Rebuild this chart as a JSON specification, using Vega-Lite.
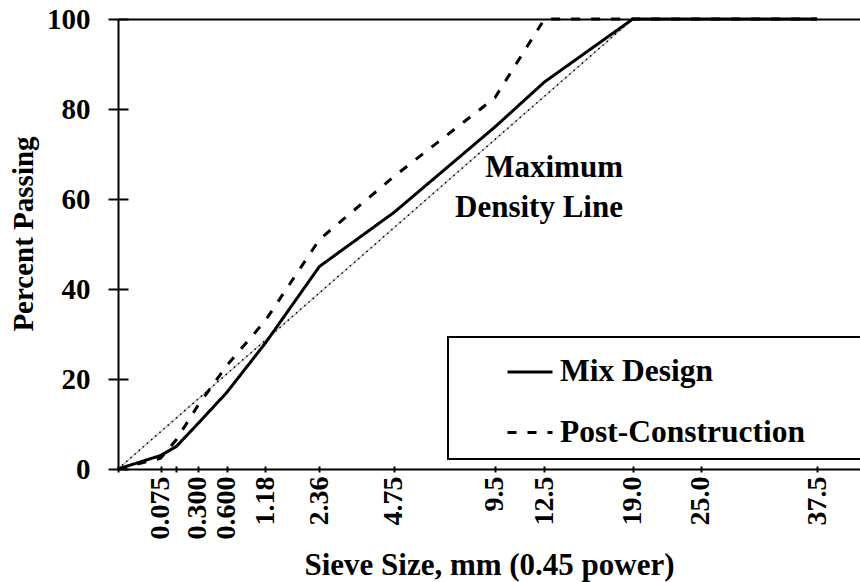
{
  "$schema": "https://vega.github.io/schema/vega-lite/v6.json",
  "width": 742,
  "height": 450,
  "autosize": {"type": "none"},
  "padding": {"left": 118, "top": 19, "right": 0, "bottom": 113},
  "background": "white",
  "config": {
    "view": {"stroke": null},
    "font": "Liberation Serif",
    "axis": {
      "grid": false,
      "domainColor": "black",
      "tickColor": "black",
      "labelColor": "black",
      "titleColor": "black",
      "domainWidth": 2,
      "tickWidth": 2,
      "labelFont": "Liberation Serif",
      "labelFontWeight": "bold",
      "titleFont": "Liberation Serif",
      "titleFontWeight": "bold"
    }
  },
  "datasets": {
    "grad": [
      {"size": 0, "pct": 0, "series": "Mix Design"},
      {"size": 0.075, "pct": 3, "series": "Mix Design"},
      {"size": 0.15, "pct": 5, "series": "Mix Design"},
      {"size": 0.3, "pct": 10, "series": "Mix Design"},
      {"size": 0.6, "pct": 17, "series": "Mix Design"},
      {"size": 1.18, "pct": 28, "series": "Mix Design"},
      {"size": 2.36, "pct": 45, "series": "Mix Design"},
      {"size": 4.75, "pct": 57, "series": "Mix Design"},
      {"size": 9.5, "pct": 76, "series": "Mix Design"},
      {"size": 12.5, "pct": 86, "series": "Mix Design"},
      {"size": 19, "pct": 100, "series": "Mix Design"},
      {"size": 25, "pct": 100, "series": "Mix Design"},
      {"size": 37.5, "pct": 100, "series": "Mix Design"},
      {"size": 0, "pct": 0, "series": "Post-Construction"},
      {"size": 0.075, "pct": 2.4, "series": "Post-Construction"},
      {"size": 0.15, "pct": 6.5, "series": "Post-Construction"},
      {"size": 0.3, "pct": 14, "series": "Post-Construction"},
      {"size": 0.6, "pct": 23, "series": "Post-Construction"},
      {"size": 1.18, "pct": 33, "series": "Post-Construction"},
      {"size": 2.36, "pct": 51, "series": "Post-Construction"},
      {"size": 4.75, "pct": 65, "series": "Post-Construction"},
      {"size": 9.5, "pct": 82.5, "series": "Post-Construction"},
      {"size": 12.5, "pct": 100, "series": "Post-Construction"},
      {"size": 19, "pct": 100, "series": "Post-Construction"},
      {"size": 25, "pct": 100, "series": "Post-Construction"},
      {"size": 37.5, "pct": 100, "series": "Post-Construction"}
    ],
    "mdl": [
      {"size": 0, "pct": 0},
      {"size": 19, "pct": 100}
    ],
    "note": [
      {"size": 18.2, "pct": 65, "text": ["Maximum", "Density Line"]}
    ]
  },
  "layer": [
    {
      "data": {"name": "mdl"},
      "mark": {"type": "line", "color": "#bdbdbd", "strokeWidth": 1.2},
      "encoding": {
        "x": {
          "field": "size", "type": "quantitative",
          "scale": {"type": "pow", "exponent": 0.45, "domain": [0, 42.8], "nice": false, "zero": true},
          "axis": {"orient": "top", "labels": false, "ticks": false, "title": null, "domain": true}
        },
        "y": {
          "field": "pct", "type": "quantitative",
          "scale": {"domain": [0, 100], "nice": false},
          "axis": {"orient": "left", "values": [0, 20, 40, 60, 80, 100], "tickSize": -10, "labels": false, "domain": false, "title": null}
        }
      }
    },
    {
      "data": {"name": "mdl"},
      "mark": {"type": "line", "color": "black", "strokeWidth": 1.5, "strokeDash": [1.5, 4]},
      "encoding": {
        "x": {
          "field": "size", "type": "quantitative",
          "axis": {"orient": "bottom", "values": [0, 0.075, 0.15, 0.3, 0.6, 1.18, 2.36, 4.75, 9.5, 12.5, 19, 25, 37.5], "tickSize": -3, "labels": false, "domain": false, "title": null}
        },
        "y": {"field": "pct", "type": "quantitative", "axis": null}
      }
    },
    {
      "data": {"name": "grad"},
      "mark": {"type": "line", "color": "black", "strokeWidth": 3},
      "encoding": {
        "x": {
          "field": "size", "type": "quantitative",
          "axis": {
            "orient": "bottom",
            "values": [0, 0.075, 0.15, 0.3, 0.6, 1.18, 2.36, 4.75, 9.5, 12.5, 19, 25, 37.5],
            "tickSize": 3,
            "labelAngle": -90,
            "labelAlign": "right",
            "labelBaseline": "middle",
            "labelPadding": 4,
            "labelFontSize": 28,
            "labelOverlap": false,
            "labelExpr": "datum.value == 0.075 ? '0.075' : datum.value == 0.3 ? '0.300' : datum.value == 0.6 ? '0.600' : datum.value == 1.18 ? '1.18' : datum.value == 2.36 ? '2.36' : datum.value == 4.75 ? '4.75' : datum.value == 9.5 ? '9.5' : datum.value == 12.5 ? '12.5' : datum.value == 19 ? '19.0' : datum.value == 25 ? '25.0' : datum.value == 37.5 ? '37.5' : ''",
            "title": "Sieve Size, mm (0.45 power)",
            "titleFontSize": 31,
            "titleX": 371,
            "titleY": 105.5,
            "titleAlign": "center",
            "titleBaseline": "alphabetic"
          }
        },
        "y": {
          "field": "pct", "type": "quantitative",
          "axis": {
            "orient": "left",
            "values": [0, 20, 40, 60, 80, 100],
            "tickSize": 10,
            "labelPadding": 18,
            "labelFontSize": 29,
            "title": "Percent Passing",
            "titleFontSize": 29,
            "titleAngle": 270,
            "titleX": -85.5,
            "titleY": 214.5,
            "titleAlign": "center",
            "titleBaseline": "alphabetic"
          }
        },
        "strokeDash": {
          "field": "series", "type": "nominal",
          "scale": {"domain": ["Mix Design", "Post-Construction"], "range": [[1, 0], [9, 11]]},
          "legend": {
            "orient": "none",
            "legendX": 330,
            "legendY": 318,
            "title": null,
            "strokeColor": "black",
            "padding": 11,
            "symbolType": "stroke",
            "symbolSize": 2025,
            "symbolStrokeWidth": 3,
            "symbolStrokeColor": "black",
            "symbolOffset": 47,
            "labelOffset": 6,
            "labelFont": "Liberation Serif",
            "labelFontWeight": "bold",
            "labelFontSize": 31.5,
            "labelColor": "black",
            "rowPadding": 20.5,
            "labelLimit": 0,
            "labelExpr": "datum.label + '\u00a0\u00a0\u00a0\u00a0\u00a0\u00a0\u00a0\u200b'",
            "encode": {"legend": {"update": {"strokeWidth": {"value": 2}}}}
          }
        }
      }
    },
    {
      "data": {"name": "note"},
      "mark": {"type": "text", "align": "right", "baseline": "alphabetic", "font": "Liberation Serif", "fontWeight": "bold", "fontSize": 31, "lineHeight": 40, "color": "black"},
      "encoding": {
        "x": {"field": "size", "type": "quantitative", "axis": null},
        "y": {"field": "pct", "type": "quantitative", "axis": null},
        "text": {"field": "text"}
      }
    }
  ],
  "resolve": {"axis": {"x": "independent", "y": "independent"}}
}
